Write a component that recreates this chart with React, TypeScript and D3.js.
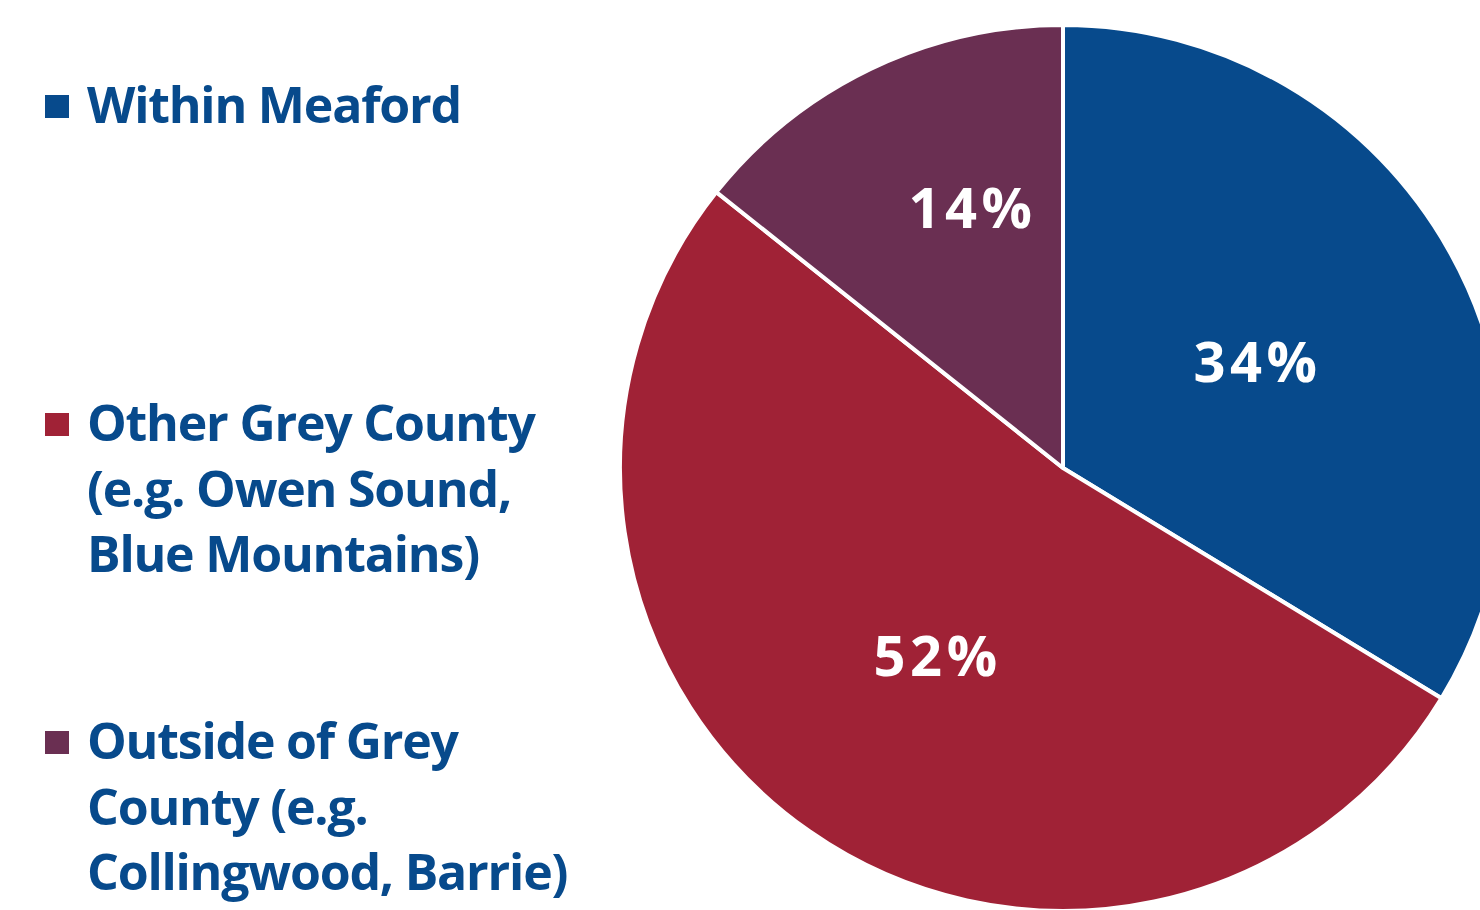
import React from "react";
import * as d3 from "d3";

const categories = ["Within Meaford", "Other Grey County", "Outside of Grey County"];
const values = [33.7, 52.0, 14.3];
const legendLines = [
  ["Within Meaford"],
  ["Other Grey County", "(e.g. Owen Sound,", "Blue Mountains)"],
  ["Outside of Grey", "County (e.g.", "Collingwood, Barrie)"],
];
const colors = ["#074a8c", "#a02236", "#6a2f52"];
const textColor = "#074a8c";
// label placement: [radius fraction, angle nudge in degrees]
const labelPlacement: [number, number][] = [
  [0.5, 0.8],
  [0.51, -1.2],
  [0.62, 6.5],
];

export default function App() {
  const W = 1480, H = 910;
  const cx = 1063, cy = 468, R = 443;
  const pie = d3.pie<number>().sort(null).value((d) => d);
  const arcs = pie(values);
  const arc = d3.arc<d3.PieArcDatum<number>>().innerRadius(0).outerRadius(R);
  const legendY = [95, 413, 731];
  const font = "'Open Sans', 'Noto Sans', sans-serif";
  return (
    <svg width={W} height={H} style={{ position: "absolute", left: 0, top: 0, background: "#fff" }}>
      <g transform={`translate(${cx},${cy})`}>
        {arcs.map((a, i) => (
          <path key={i} d={arc(a) || ""} fill={colors[i]} stroke="#fff" strokeWidth={4} strokeLinejoin="round" />
        ))}
        {arcs.map((a, i) => {
          const [f, nudge] = labelPlacement[i];
          const ang = (a.startAngle + a.endAngle) / 2 + (nudge * Math.PI) / 180;
          const x = Math.sin(ang) * R * f;
          const y = -Math.cos(ang) * R * f;
          return (
            <text key={i} x={x} y={y} dy="0.35em" textAnchor="middle" fill="#fff"
              fontFamily={font} fontWeight={700} fontSize={56} letterSpacing={4.5}>
              {`${Math.round(values[i])}%`}
            </text>
          );
        })}
      </g>
      {categories.map((c, i) => (
        <g key={c}>
          <rect x={45} y={legendY[i]} width={24} height={23} fill={colors[i]} />
          {legendLines[i].map((line, j) => (
            <text key={j} x={87} y={legendY[i] + 28 + j * 65.5} fill={textColor}
              fontFamily={font} fontWeight={700} fontSize={50} letterSpacing={-1.2}>
              {line}
            </text>
          ))}
        </g>
      ))}
    </svg>
  );
}
